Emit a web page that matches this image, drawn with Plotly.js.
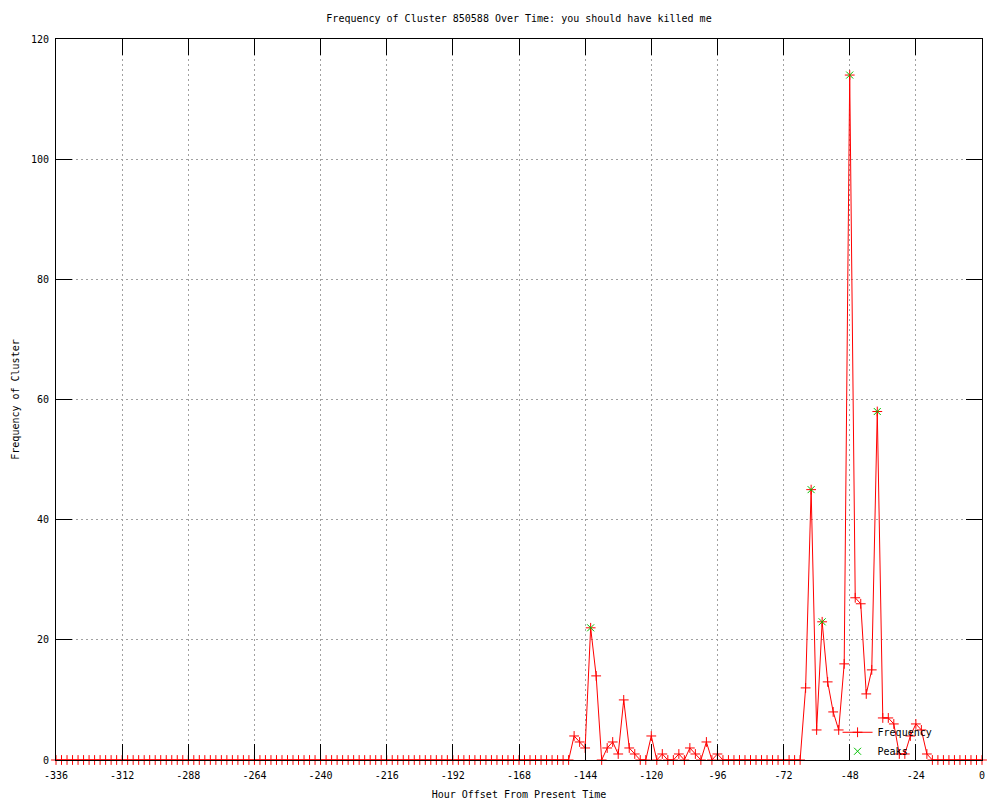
<!DOCTYPE html>
<html>
<head>
<meta charset="utf-8">
<script src="https://cdn.plot.ly/plotly-3.0.1.min.js"></script>
<style>html,body{margin:0;padding:0;background:#fff;}#chart{width:1000px;height:800px;}</style>
</head>
<body>
<div id="chart"></div>
<script>
var hours = [
-336,-334,-332,-330,-328,-326,-324,-322,-320,-318,-316,-314,-312,-310,-308,-306,-304,-302,-300,-298,
-296,-294,-292,-290,-288,-286,-284,-282,-280,-278,-276,-274,-272,-270,-268,-266,-264,-262,-260,-258,
-256,-254,-252,-250,-248,-246,-244,-242,-240,-238,-236,-234,-232,-230,-228,-226,-224,-222,-220,-218,
-216,-214,-212,-210,-208,-206,-204,-202,-200,-198,-196,-194,-192,-190,-188,-186,-184,-182,-180,-178,
-176,-174,-172,-170,-168,-166,-164,-162,-160,-158,-156,-154,-152,-150,-148,-146,-144,-142,-140,-138,
-136,-134,-132,-130,-128,-126,-124,-122,-120,-118,-116,-114,-112,-110,-108,-106,-104,-102,-100,-98,
-96,-94,-92,-90,-88,-86,-84,-82,-80,-78,-76,-74,-72,-70,-68,-66,-64,-62,-60,-58,
-56,-54,-52,-50,-48,-46,-44,-42,-40,-38,-36,-34,-32,-30,-28,-26,-24,-22,-20,-18,
-16,-14,-12,-10,-8,-6,-4,-2,0
];
var frequency = [
0,0,0,0,0,0,0,0,0,0,0,0,0,0,0,0,0,0,0,0,
0,0,0,0,0,0,0,0,0,0,0,0,0,0,0,0,0,0,0,0,
0,0,0,0,0,0,0,0,0,0,0,0,0,0,0,0,0,0,0,0,
0,0,0,0,0,0,0,0,0,0,0,0,0,0,0,0,0,0,0,0,
0,0,0,0,0,0,0,0,0,0,0,0,0,0,4,3,2,22,14,0,
2,3,1,10,2,1,0,0,4,0,1,0,0,1,0,2,1,0,3,0,
1,0,0,0,0,0,0,0,0,0,0,0,0,0,0,0,12,45,5,23,
13,8,5,16,114,27,26,11,15,58,7,7,6,1,1,4,6,5,1,0,
0,0,0,0,0,0,0,0,0
];
var peakHours = [-142,-62,-58,-48,-38];
var peakValues = [22,45,23,114,58];
var xTicks = [-336,-312,-288,-264,-240,-216,-192,-168,-144,-120,-96,-72,-48,-24,0];
var yTicks = [0,20,40,60,80,100,120];

var FONT = {family: "'DejaVu Sans Mono', 'Liberation Mono', monospace", size: 10, color: '#000'};

var traces = [
  {
    x: hours, y: frequency, name: 'Frequency', type: 'scatter', mode: 'lines+markers',
    line: {color: '#ff0000', width: 1},
    marker: {symbol: 'cross-thin-open', size: 7, line: {color: '#ff0000', width: 1}, color: '#ff0000'},
    cliponaxis: false
  },
  {
    x: peakHours, y: peakValues, name: 'Peaks', type: 'scatter', mode: 'markers',
    marker: {symbol: 'x-thin-open', size: 7, line: {color: '#00c000', width: 1}, color: '#00c000'},
    cliponaxis: false
  }
];

var axisCommon = {
  showline: true, linecolor: '#000', linewidth: 1, mirror: 'allticks',
  ticks: 'inside', ticklen: 16, tickcolor: '#000', tickwidth: 1,
  showgrid: true, gridcolor: '#a0a0a0', gridwidth: 1, griddash: '2px,3px',
  zeroline: false, tickfont: FONT
};

var layout = {
  width: 1000, height: 800,
  paper_bgcolor: '#fff', plot_bgcolor: '#fff',
  margin: {l: 56, r: 18, t: 39, b: 40},
  font: FONT,
  showlegend: true,
  title: {text: 'Frequency of Cluster 850588 Over Time: you should have killed me',
          font: FONT, x: 0.5, xref: 'paper', xanchor: 'center', y: 0.9775, yref: 'container', yanchor: 'middle'},
  xaxis: Object.assign({}, axisCommon, {
    range: [-336, 0], tickmode: 'array', tickvals: xTicks, ticktext: xTicks.map(String),
    ticklabelstandoff: 6,
    title: {text: 'Hour Offset From Present Time', font: FONT, standoff: 12},
    automargin: false
  }),
  yaxis: Object.assign({}, axisCommon, {
    range: [0, 120], tickmode: 'array', tickvals: yTicks, ticktext: yTicks.map(String),
    ticklabelstandoff: 4,
    title: {text: 'Frequency of Cluster', font: FONT, standoff: 9},
    automargin: false
  }),
  legend: {
    x: 0.952, xanchor: 'right', y: -0.008, yanchor: 'bottom',
    bgcolor: 'rgba(0,0,0,0)', borderwidth: 0, font: FONT,
    tracegroupgap: 0, itemwidth: 30
  }
};

Plotly.newPlot('chart', traces, layout, {displayModeBar: false, staticPlot: true});
</script>
</body>
</html>
